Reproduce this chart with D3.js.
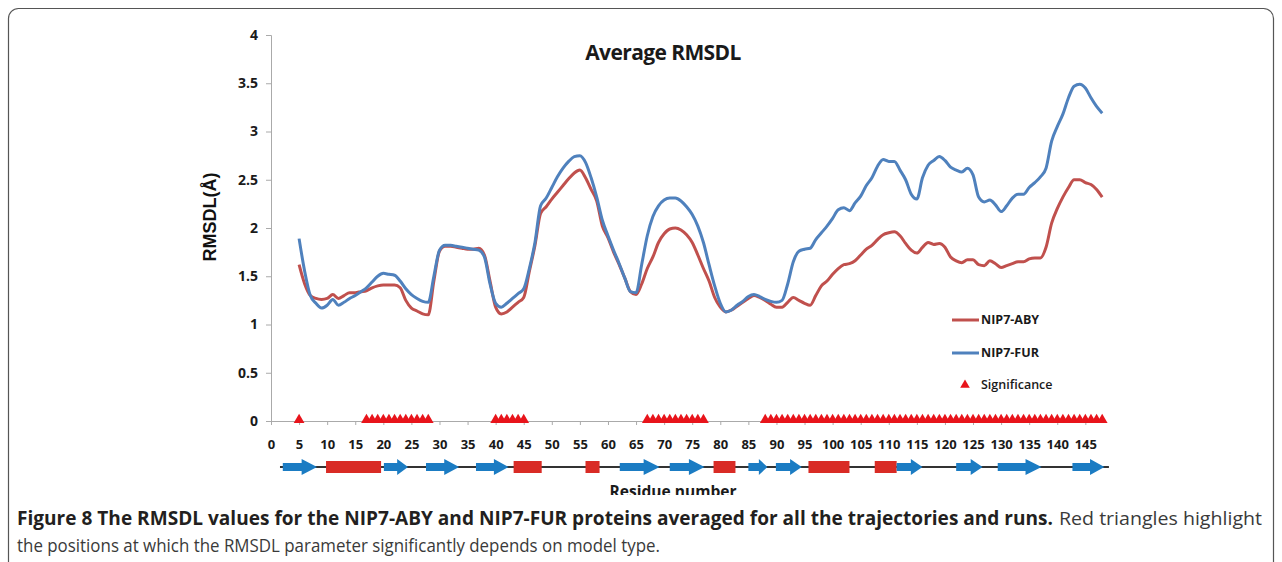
<!DOCTYPE html>
<html>
<head>
<meta charset="utf-8">
<script src="https://cdn.jsdelivr.net/npm/d3@7"></script>
<style>
  html, body { margin: 0; padding: 0; background: #fff; }
  #app { width: 1282px; height: 562px; }
</style>
</head>
<body>
<div id="app"></div>
<script>
// residue numbers 5..148
const residues = [
  5, 6, 7, 8, 9, 10, 11, 12, 13, 14, 15, 16, 17, 18, 19, 20, 21, 22, 23, 24,
  25, 26, 27, 28, 29, 30, 31, 32, 33, 34, 35, 36, 37, 38, 39, 40, 41, 42, 43, 44,
  45, 46, 47, 48, 49, 50, 51, 52, 53, 54, 55, 56, 57, 58, 59, 60, 61, 62, 63, 64,
  65, 66, 67, 68, 69, 70, 71, 72, 73, 74, 75, 76, 77, 78, 79, 80, 81, 82, 83, 84,
  85, 86, 87, 88, 89, 90, 91, 92, 93, 94, 95, 96, 97, 98, 99, 100, 101, 102, 103, 104,
  105, 106, 107, 108, 109, 110, 111, 112, 113, 114, 115, 116, 117, 118, 119, 120, 121, 122, 123, 124,
  125, 126, 127, 128, 129, 130, 131, 132, 133, 134, 135, 136, 137, 138, 139, 140, 141, 142, 143, 144,
  145, 146, 147, 148
];

const aby = [
  1.62, 1.42, 1.30, 1.27, 1.26, 1.27, 1.31, 1.27, 1.30, 1.33, 1.33, 1.34, 1.35, 1.38, 1.40, 1.41, 1.41, 1.41, 1.38, 1.25,
  1.17, 1.14, 1.11, 1.10, 1.45, 1.76, 1.81, 1.81, 1.80, 1.79, 1.78, 1.78, 1.79, 1.72, 1.45, 1.18, 1.11, 1.13, 1.18, 1.23,
  1.28, 1.55, 1.82, 2.15, 2.22, 2.30, 2.37, 2.44, 2.51, 2.57, 2.60, 2.52, 2.40, 2.28, 2.02, 1.90, 1.75, 1.62, 1.48, 1.34,
  1.31, 1.42, 1.58, 1.70, 1.85, 1.94, 1.99, 2.00, 1.98, 1.93, 1.85, 1.72, 1.58, 1.45, 1.28, 1.18, 1.13, 1.15, 1.19, 1.23,
  1.27, 1.30, 1.28, 1.25, 1.21, 1.18, 1.18, 1.23, 1.28, 1.25, 1.22, 1.20, 1.30, 1.40, 1.45, 1.52, 1.58, 1.62, 1.63, 1.66,
  1.72, 1.78, 1.82, 1.88, 1.93, 1.95, 1.96, 1.92, 1.84, 1.77, 1.74, 1.80, 1.85, 1.83, 1.84, 1.80, 1.70, 1.66, 1.64, 1.67,
  1.67, 1.62, 1.61, 1.66, 1.63, 1.59, 1.61, 1.63, 1.65, 1.65, 1.68, 1.69, 1.69, 1.80, 2.05, 2.20, 2.32, 2.42, 2.50, 2.50,
  2.47, 2.45, 2.40, 2.32
];

const fur = [
  1.89, 1.55, 1.30, 1.22, 1.17, 1.20, 1.26, 1.20, 1.23, 1.27, 1.30, 1.34, 1.38, 1.44, 1.50, 1.53, 1.52, 1.51, 1.45, 1.37,
  1.31, 1.27, 1.24, 1.23, 1.50, 1.77, 1.82, 1.82, 1.81, 1.80, 1.79, 1.78, 1.77, 1.70, 1.42, 1.22, 1.18, 1.22, 1.27, 1.32,
  1.37, 1.58, 1.85, 2.23, 2.31, 2.42, 2.53, 2.62, 2.69, 2.74, 2.75, 2.68, 2.52, 2.32, 2.08, 1.92, 1.77, 1.63, 1.48, 1.34,
  1.33, 1.62, 1.92, 2.12, 2.23, 2.29, 2.31, 2.31, 2.28, 2.22, 2.14, 2.02, 1.85, 1.62, 1.40, 1.22, 1.13, 1.15, 1.20, 1.24,
  1.29, 1.31, 1.29, 1.26, 1.24, 1.23, 1.25, 1.42, 1.65, 1.76, 1.78, 1.79, 1.88, 1.95, 2.02, 2.10, 2.19, 2.21, 2.18, 2.26,
  2.33, 2.44, 2.52, 2.64, 2.71, 2.69, 2.69, 2.60, 2.50, 2.35, 2.30, 2.52, 2.65, 2.70, 2.74, 2.70, 2.63, 2.60, 2.58, 2.62,
  2.55, 2.32, 2.27, 2.29, 2.24, 2.17, 2.23, 2.31, 2.35, 2.35, 2.42, 2.47, 2.53, 2.62, 2.90, 3.05, 3.18, 3.35, 3.47, 3.49,
  3.45, 3.35, 3.26, 3.19
];

// residues with significant difference (red triangles)
const significant = [
  5,
  17, 18, 19, 20, 21, 22, 23, 24, 25, 26, 27, 28,
  40, 41, 42, 43, 44, 45,
  67, 68, 69, 70, 71, 72, 73, 74, 75, 76, 77,
  88, 89, 90, 91, 92, 93, 94, 95, 96, 97, 98, 99, 100, 101, 102, 103, 104, 105, 106, 107,
  108, 109, 110, 111, 112, 113, 114, 115, 116, 117, 118, 119, 120, 121, 122, 123, 124, 125, 126, 127,
  128, 129, 130, 131, 132, 133, 134, 135, 136, 137, 138, 139, 140, 141, 142, 143, 144, 145, 146, 147, 148
];

const xTicks = [0, 5, 10, 15, 20, 25, 30, 35, 40, 45, 50, 55, 60, 65, 70, 75, 80, 85, 90, 95,
  100, 105, 110, 115, 120, 125, 130, 135, 140, 145];
const yTicks = [0, 0.5, 1, 1.5, 2, 2.5, 3, 3.5, 4];

// secondary structure (residue ranges)
const strands = [[2.1, 8.2], [20.1, 24.4], [27.6, 33.5], [36.5, 42.3], [62.1, 69.2], [71, 77.2],
  [85, 88.4], [89.9, 94.5], [111.4, 116], [122, 126.7], [129.4, 137.2], [142.7, 148.4]];
const helices = [[9.8, 19.6], [43.2, 48.2], [56, 58.5], [78.8, 82.7], [95.7, 103], [107.5, 111.4]];

const seriesNames = ['NIP7-ABY', 'NIP7-FUR', 'Significance'];
const seriesColors = ['#c0504d', '#4f81bd', '#e8141b'];

function render() {
  const width = 1282, height = 562;

  const svg = d3.select('#app')
    .append('svg')
    .attr('width', width)
    .attr('height', height)
    .style('font-family', '"Open Sans", sans-serif');

  svg.append('rect').attr('width', width).attr('height', height).attr('fill', '#fff');

  // figure frame
  svg.append('rect')
    .attr('x', 8.5).attr('y', 8.5)
    .attr('width', 1265).attr('height', 620)
    .attr('rx', 10)
    .attr('fill', 'none')
    .attr('stroke', '#555')
    .attr('stroke-width', 1.2);

  // the chart picture is cut just below the axis title
  svg.append('clipPath').attr('id', 'figClip')
    .append('rect').attr('x', 0).attr('y', 0).attr('width', width).attr('height', 495);

  const fig = svg.append('g').attr('clip-path', 'url(#figClip)');

  const x = d3.scaleLinear().domain([0, 148.5]).range([271, 1105]);
  const y = d3.scaleLinear().domain([0, 4]).range([421, 35]);

  // Y axis
  const yAxis = fig.append('g')
    .attr('transform', `translate(${x(0)},0)`)
    .call(d3.axisLeft(y).tickValues(yTicks).tickFormat(d => d).tickSize(5).tickPadding(8));
  yAxis.select('.domain').attr('stroke', '#aaa');
  yAxis.selectAll('.tick line').attr('stroke', '#aaa');
  yAxis.selectAll('text')
    .attr('fill', '#1a1a1a')
    .attr('font-size', 14)
    .attr('font-weight', 700)
    .style('font-family', '"Open Sans", sans-serif');

  // X axis
  const xAxis = fig.append('g')
    .attr('transform', `translate(0,${y(0)})`)
    .call(d3.axisBottom(x).tickValues(xTicks).tickFormat(d => d).tickSize(4).tickSizeOuter(0));
  xAxis.select('.domain').attr('stroke', '#aaa');
  xAxis.selectAll('.tick line').attr('stroke', '#aaa');
  xAxis.selectAll('text')
    .attr('y', 28)
    .attr('dy', 0)
    .attr('fill', '#1a1a1a')
    .attr('font-size', 13)
    .attr('font-weight', 700)
    .style('font-family', '"Open Sans", sans-serif');

  // lines
  const line = d3.line()
    .x(d => x(d[0]))
    .y(d => y(d[1]))
    .curve(d3.curveMonotoneX);

  [aby, fur].forEach((vals, i) => {
    fig.append('path')
      .datum(residues.map((r, k) => [r, vals[k]]))
      .attr('d', line)
      .attr('fill', 'none')
      .attr('stroke', seriesColors[i])
      .attr('stroke-width', 3)
      .attr('stroke-linejoin', 'round');
  });

  // significance triangles
  const tri = d3.symbol().type(d3.symbolTriangle).size(50);
  fig.selectAll('.sig')
    .data(significant)
    .join('path')
    .attr('class', 'sig')
    .attr('d', tri)
    .attr('transform', d => `translate(${x(d)},${y(0) - 1})`)
    .attr('fill', seriesColors[2]);

  // title
  fig.append('text')
    .attr('x', 663).attr('y', 60)
    .attr('text-anchor', 'middle')
    .attr('font-size', 21)
    .attr('font-weight', 700)
    .attr('fill', '#1a1a1a')
    .attr('letter-spacing', -0.6)
    .text('Average RMSDL');

  // y label
  fig.append('text')
    .attr('transform', 'translate(216,217) rotate(-90)')
    .attr('text-anchor', 'middle')
    .attr('font-size', 18)
    .attr('font-weight', 700)
    .attr('fill', '#111')
    .style('font-family', '"Liberation Sans", Arial, sans-serif')
    .text('RMSDL(Å)');

  // legend
  const legend = fig.append('g');
  [320, 353].forEach((ly, i) => {
    legend.append('line')
      .attr('x1', 952).attr('x2', 979).attr('y1', ly).attr('y2', ly)
      .attr('stroke', seriesColors[i]).attr('stroke-width', 3);
  });
  legend.append('path')
    .attr('d', d3.symbol().type(d3.symbolTriangle).size(40))
    .attr('transform', 'translate(965,385)')
    .attr('fill', seriesColors[2]);
  [320, 353, 385].forEach((ly, i) => {
    legend.append('text')
      .attr('x', 981).attr('y', ly).attr('dy', '0.35em')
      .attr('font-size', 12.5)
      .attr('font-weight', i < 2 ? 700 : 600)
      .attr('fill', '#1a1a1a')
      .text(seriesNames[i]);
  });

  // secondary structure track
  const ssY = 467;
  fig.append('line')
    .attr('x1', x(1.6)).attr('x2', x(149.2))
    .attr('y1', ssY).attr('y2', ssY)
    .attr('stroke', '#333').attr('stroke-width', 2);

  fig.selectAll('.helix')
    .data(helices)
    .join('rect')
    .attr('class', 'helix')
    .attr('x', d => x(d[0]))
    .attr('y', ssY - 6)
    .attr('width', d => x(d[1]) - x(d[0]))
    .attr('height', 12)
    .attr('fill', '#d92b25');

  fig.selectAll('.strand')
    .data(strands)
    .join('path')
    .attr('class', 'strand')
    .attr('fill', '#1b7cc3')
    .attr('d', d => {
      const x0 = x(d[0]), x1 = x(d[1]);
      const head = Math.min(16, (x1 - x0) * 0.45);
      const xh = x1 - head;
      return `M${x0},${ssY - 4}L${xh},${ssY - 4}L${xh},${ssY - 8}L${x1},${ssY}` +
        `L${xh},${ssY + 8}L${xh},${ssY + 4}L${x0},${ssY + 4}Z`;
    });

  // x label (cut by the figure edge)
  fig.append('text')
    .attr('x', 673).attr('y', 497)
    .attr('text-anchor', 'middle')
    .attr('font-size', 16)
    .attr('font-weight', 700)
    .attr('fill', '#1a1a1a')
    .attr('textLength', 127)
    .attr('lengthAdjust', 'spacingAndGlyphs')
    .text('Residue number');

  // caption
  svg.append('text')
    .attr('x', 17).attr('y', 525)
    .attr('font-size', 19)
    .attr('font-weight', 700)
    .attr('fill', '#231f20')
    .attr('textLength', 1036)
    .attr('lengthAdjust', 'spacingAndGlyphs')
    .text('Figure 8 The RMSDL values for the NIP7-ABY and NIP7-FUR proteins averaged for all the trajectories and runs.');
  svg.append('text')
    .attr('x', 1059).attr('y', 525)
    .attr('font-size', 19)
    .attr('fill', '#3a3a3a')
    .attr('textLength', 203)
    .attr('lengthAdjust', 'spacingAndGlyphs')
    .text('Red triangles highlight');
  svg.append('text')
    .attr('x', 17).attr('y', 552)
    .attr('font-size', 19)
    .attr('fill', '#3a3a3a')
    .attr('textLength', 643)
    .attr('lengthAdjust', 'spacingAndGlyphs')
    .text('the positions at which the RMSDL parameter significantly depends on model type.');
}

render();
</script>
</body>
</html>
